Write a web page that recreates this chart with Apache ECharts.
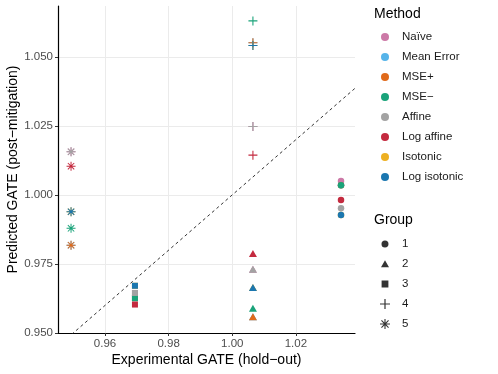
<!DOCTYPE html>
<html>
<head>
<meta charset="utf-8">
<script src="https://cdn.jsdelivr.net/npm/echarts@6/dist/echarts.min.js"></script>
<style>
  html, body { margin: 0; padding: 0; background: #fff; }
  #chart { width: 498px; height: 374px; }
</style>
</head>
<body>
<div id="chart"></div>
<script>
// x position of each group (experimental GATE, hold-out)
const groups = ['1', '2', '3', '4', '5'];
const groupX = [1.0342, 1.0065, 0.9694, 1.0065, 0.9493];

// predicted GATE per method, one value per group
const methods = ['Naïve', 'Mean Error', 'MSE+', 'MSE−', 'Affine', 'Log affine', 'Isotonic', 'Log isotonic'];
const naive      = [1.0050, 0.9731, 0.9645, 1.0248, 1.0156];
const meanError  = [1.0035, 0.9559, 0.9626, 1.0551, 0.9818];
const msePlus    = [1.0035, 0.9559, 0.9626, 1.0551, 0.9818];
const mseMinus   = [1.0035, 0.9590, 0.9626, 1.0630, 0.9879];
const affine     = [0.9952, 0.9731, 0.9645, 1.0248, 1.0156];
const logAffine  = [0.9982, 0.9788, 0.9603, 1.0144, 1.0104];
const isotonic   = [0.9927, 0.9665, 0.9671, 1.0541, 0.9939];
const logIsotonic= [0.9927, 0.9665, 0.9671, 1.0541, 0.9939];
const methodValues = [naive, meanError, msePlus, mseMinus, affine, logAffine, isotonic, logIsotonic];

const xTicks = [0.96, 0.98, 1.00, 1.02];
const yTicks = [0.950, 0.975, 1.000, 1.025, 1.050];

const colors = ['#CC79A7', '#56B4E9', '#E06A1B', '#1AA37A', '#A3A3A3', '#C42A3F', '#EDB022', '#1B77B0'];

const xMin = 0.9452, xMax = 1.0386;
const yMin = 0.9500, yMax = 1.0684;

// marker shapes (ggplot shapes 16, 17, 15, 3, 8)
const plusPath = 'path://M4.4 0H5.6V4.4H10V5.6H5.6V10H4.4V5.6H0V4.4H4.4Z';
const starPath = 'path://M0 4.45H10V5.55H0Z M4.45 0H5.55V10H4.45Z ' +
  'M1.85 1.07L8.93 8.15L8.15 8.93L1.07 1.85Z M8.15 1.07L8.93 1.85L1.85 8.93L1.07 8.15Z';
const groupSymbol = ['circle', 'triangle', 'rect', plusPath, starPath];
const groupSize = [6.5, [8, 7], 6, 9, 9];

// legend icons padded to a 10x10 box
const pad = ' M0 0H0.01V0.01H0Z M10 10H9.99V9.99H10Z';
const groupIcon = [
  'path://M5 1.5A3.5 3.5 0 1 1 4.99 1.5Z' + pad,
  'path://M5 1.2L9 8.2L1 8.2Z' + pad,
  'path://M1.6 1.6H8.4V8.4H1.6Z' + pad,
  plusPath,
  starPath
];

const font = 'Liberation Sans';

const series = methods.map((m, i) => ({
  name: m,
  type: 'scatter',
  itemStyle: { color: colors[i], opacity: 1 },
  data: groupX.map((x, g) => ({
    value: [x, methodValues[i][g]],
    symbol: groupSymbol[g],
    symbolSize: groupSize[g]
  })),
  z: 3
}));

// group legend entries (shape only)
groups.forEach(g => series.push({ name: g, type: 'scatter', data: [], itemStyle: { color: '#000' } }));

// y = x reference line
series.unshift({
  type: 'line',
  data: [[xMin, xMin], [xMax, xMax]],
  symbol: 'none',
  silent: true,
  lineStyle: { color: '#333', width: 1, type: [3, 3] },
  z: 2
});

const chart = echarts.init(document.getElementById('chart'));
chart.setOption({
  animation: false,
  textStyle: { fontFamily: font },
  grid: { left: 58, right: 143, top: 6, bottom: 41, outerBoundsMode: 'none', containLabel: false },
  title: [
    { text: 'Method', left: 374, top: 7, padding: 0, textStyle: { fontFamily: font, fontSize: 14, fontWeight: 'normal', color: '#000' } },
    { text: 'Group', left: 374, top: 213, padding: 0, textStyle: { fontFamily: font, fontSize: 14, fontWeight: 'normal', color: '#000' } }
  ],
  legend: [
    {
      data: methods,
      orient: 'vertical',
      left: 381, top: 30, padding: 0,
      icon: 'circle',
      itemWidth: 8, itemHeight: 8, itemGap: 6,
      textStyle: { fontFamily: font, fontSize: 11.5, color: '#1a1a1a', lineHeight: 14, padding: [0, 0, 0, 8] },
      selectedMode: false
    },
    {
      data: groups.map((g, i) => ({ name: g, icon: groupIcon[i] })),
      orient: 'vertical',
      left: 380, top: 237, padding: 0,
      itemWidth: 10, itemHeight: 10, itemGap: 6,
      textStyle: { fontFamily: font, fontSize: 11.5, color: '#1a1a1a', lineHeight: 14, padding: [0, 0, 0, 7] },
      selectedMode: false
    }
  ],
  xAxis: {
    type: 'value',
    min: xMin, max: xMax,
    name: 'Experimental GATE (hold−out)',
    nameLocation: 'middle', nameGap: 20, nameMoveOverlap: false,
    nameTextStyle: { fontFamily: font, fontSize: 14, color: '#000' },
    axisLine: { show: true, lineStyle: { color: '#000', width: 1.2 } },
    axisTick: { show: true, length: 3, customValues: xTicks, lineStyle: { color: '#333' } },
    axisLabel: { customValues: xTicks, margin: 5, fontSize: 11.5, color: '#4D4D4D', formatter: v => v.toFixed(2) },
    splitLine: { show: true, lineStyle: { color: '#EBEBEB', width: 1 } }
  },
  yAxis: {
    type: 'value',
    min: yMin, max: yMax,
    name: 'Predicted GATE (post−mitigation)',
    nameLocation: 'middle', nameGap: 38, nameMoveOverlap: false,
    nameTextStyle: { fontFamily: font, fontSize: 14, color: '#000' },
    axisLine: { show: true, lineStyle: { color: '#000', width: 1.2 } },
    axisTick: { show: true, length: 3, customValues: yTicks, lineStyle: { color: '#333' } },
    axisLabel: { customValues: yTicks, margin: 5, fontSize: 11.5, color: '#4D4D4D', formatter: v => v.toFixed(3) },
    splitLine: { show: true, lineStyle: { color: '#EBEBEB', width: 1 } }
  },
  series: series
});
</script>
</body>
</html>
